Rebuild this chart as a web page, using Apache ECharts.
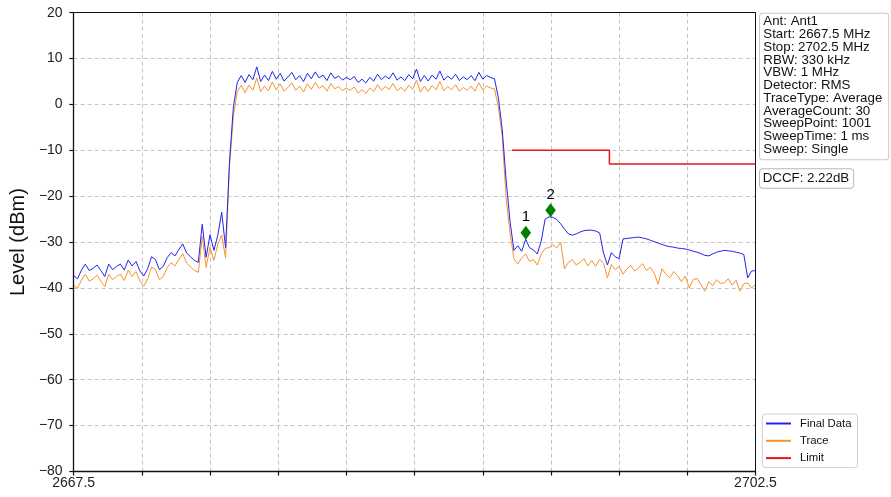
<!DOCTYPE html>
<html>
<head>
<meta charset="utf-8">
<script src="https://cdn.jsdelivr.net/npm/echarts@6/dist/echarts.min.js"></script>
<style>
html,body{margin:0;padding:0;background:#fff;}
#chart{width:891px;height:497px;}
</style>
</head>
<body>
<div id="chart"></div>
<script>
// Sweep: 2667.5 .. 2702.5 MHz, one value every 0.2 MHz
const sweepStart = 2667.5;
const sweepStep = 0.2;

const finalData = [
  -37.3, -38.0, -36.1, -34.8, -36.2, -35.7, -35.0, -36.2, -37.5, -34.8,
  -36.0, -35.3, -34.8, -36.1, -33.9, -35.2, -34.2, -36.3, -37.4, -35.8,
  -33.2, -33.8, -36.0, -35.3, -33.4, -32.3, -33.0, -31.6, -30.4, -32.4,
  -33.2, -34.0, -34.4, -26.1, -33.3, -28.4, -31.8, -28.5, -23.5, -31.2,
  -12.5, -0.5, 4.8, 6.3, 4.8, 6.5, 5.4, 8.2, 5.0, 6.4,
  5.2, 7.2, 5.5, 6.8, 5.1, 6.0, 7.0, 5.4, 6.3, 5.0,
  6.8, 5.6, 7.1, 5.8, 6.4, 5.2, 6.9, 5.7, 6.2, 5.3,
  5.9, 5.4, 6.1, 4.8, 5.5, 4.7, 5.9, 5.1, 6.6, 5.4,
  6.2, 5.6, 6.9, 5.3, 6.0, 5.2, 6.5, 5.6, 7.7, 5.0,
  6.3, 5.1, 6.4, 5.5, 7.3, 5.3, 6.2, 5.5, 6.6, 5.2,
  6.0, 5.4, 6.3, 5.2, 7.0, 5.5, 6.3, 5.9, 5.6, 1.5,
  -5.5, -16.5, -25.5, -31.8, -30.8, -32.0, -29.4, -31.2, -31.7, -32.6,
  -29.8, -25.0, -24.5, -24.6, -25.1, -26.0, -27.2, -28.2, -28.5, -28.2,
  -27.8, -27.5, -27.4, -27.4, -27.6, -28.0, -32.4, -35.0, -32.3, -33.2,
  -33.6, -29.3, -29.2, -29.1, -29.0, -28.9, -29.1, -29.3, -29.6, -29.9,
  -30.2, -30.5, -30.8, -31.0, -31.1, -31.3, -31.4, -31.5, -31.7, -32.0,
  -32.2, -32.5, -32.9, -33.0, -32.6, -32.2, -32.0, -31.8, -31.9, -32.0,
  -32.2, -32.4, -32.7, -37.8, -36.3, -36.2
];

const traceData = [
  -39.5, -40.0, -38.3, -37.0, -38.5, -38.0, -37.2, -38.5, -39.7, -37.0,
  -38.2, -37.5, -37.0, -38.4, -36.1, -37.5, -36.4, -38.5, -39.6, -38.0,
  -35.4, -36.0, -38.2, -37.5, -35.6, -34.5, -35.2, -33.8, -32.5, -34.6,
  -35.4, -36.2, -36.6, -28.8, -35.5, -31.2, -34.0, -30.4, -28.5, -33.5,
  -13.5, -2.5, 2.8, 4.2, 2.6, 4.2, 3.1, 5.8, 2.8, 4.0,
  3.0, 4.9, 3.2, 4.5, 2.9, 3.7, 4.7, 3.1, 4.0, 2.7,
  4.5, 3.3, 4.8, 3.5, 4.1, 2.9, 4.6, 3.4, 3.9, 3.0,
  3.6, 3.1, 3.8, 2.5, 3.2, 2.4, 3.6, 2.8, 4.3, 3.1,
  3.9, 3.3, 4.6, 3.0, 3.7, 2.9, 4.2, 3.3, 5.3, 2.7,
  4.0, 2.8, 4.1, 3.2, 5.0, 3.0, 3.9, 3.2, 4.3, 2.9,
  3.7, 3.1, 4.0, 2.9, 4.7, 3.2, 4.0, 3.6, 3.4, -0.5,
  -7.0, -20.5, -28.0, -33.6, -34.8, -33.4, -32.6, -34.2, -33.8, -35.0,
  -32.6, -31.4, -31.2, -30.6, -31.3, -30.1, -35.8, -34.4, -33.8, -35.0,
  -34.4, -33.6, -35.2, -34.0, -35.3, -33.8, -34.6, -37.8, -34.9, -36.0,
  -35.3, -37.0, -35.8, -35.1, -36.3, -35.6, -34.7, -36.2, -35.5, -36.8,
  -39.2, -35.8, -37.0, -37.8, -36.4, -37.3, -38.6, -37.4, -40.0, -38.2,
  -37.9, -39.3, -40.7, -38.6, -39.5, -38.2, -39.0, -38.9, -38.0, -39.4,
  -38.3, -40.7, -39.1, -38.9, -40.0, -39.3
];

// Limit line (MHz, dBm)
const limitFreqs = [2690.0, 2695.0, 2695.0, 2702.5];
const limitLevels = [-10, -10, -13, -13];

// Markers
const markerNames = ['1', '2'];
const markerFreqs = [2690.71, 2691.98];
const markerLevels = [-27.97, -23.08];

// Axis
const xMin = 2667.5, xMax = 2702.5, xDivisions = 10;
const xEdgeLabels = ['2667.5', '2702.5'];
const yMin = -80, yMax = 20, yStep = 10;

// Side texts
const infoLines = [
  'Ant: Ant1', 'Start: 2667.5 MHz', 'Stop: 2702.5 MHz', 'RBW: 330 kHz', 'VBW: 1 MHz',
  'Detector: RMS', 'TraceType: Average', 'AverageCount: 30', 'SweepPoint: 1001',
  'SweepTime: 1 ms', 'Sweep: Single'
];
const dccfText = 'DCCF: 2.22dB';
const seriesNames = ['Final Data', 'Trace', 'Limit'];

const FONT = "'Liberation Sans', Arial, sans-serif";
const span = xMax - xMin;
const freqs = finalData.map((_, i) => +(sweepStart + i * sweepStep).toFixed(3));

const chart = echarts.init(document.getElementById('chart'), null, {renderer: 'canvas'});
const axisLine = {show: true, onZero: false, lineStyle: {color: '#111', width: 1.3}};
const frameLine = {show: true, onZero: false, lineStyle: {color: '#111', width: 1}};
const gridLine = {show: true, lineStyle: {color: '#b5b5b5', width: 0.8, type: [4, 3]}};

chart.setOption({
  animation: false,
  backgroundColor: '#fff',
  grid: {left: 72.7, right: 135.5, top: 12.7, bottom: 25.5, show: false},
  xAxis: [
    {type: 'value', min: xMin, max: xMax, show: false},
    {
      type: 'value', min: 0, max: span, interval: span / xDivisions, position: 'bottom',
      axisLine: axisLine,
      axisTick: {show: true, length: 4, inside: false, lineStyle: {color: '#111', width: 1.2}},
      axisLabel: {
        show: true, fontSize: 14, color: '#222', fontFamily: FONT, margin: 5,
        formatter: v => Math.abs(v) < 1e-6 ? xEdgeLabels[0] : (Math.abs(v - span) < 1e-6 ? xEdgeLabels[1] : '')
      },
      splitLine: gridLine, z: 3
    },
    {
      type: 'value', min: 0, max: span, position: 'top',
      axisLine: frameLine, axisTick: {show: false}, axisLabel: {show: false}, splitLine: {show: false}, z: 3
    }
  ],
  yAxis: [
    {
      type: 'value', min: yMin, max: yMax, interval: yStep,
      name: 'Level (dBm)', nameLocation: 'middle', nameGap: 41,
      nameTextStyle: {fontSize: 20, color: '#111', fontFamily: FONT},
      axisLine: axisLine,
      axisTick: {show: true, length: 4.3, inside: false, lineStyle: {color: '#111', width: 1.2}},
      axisLabel: {fontSize: 14, color: '#222', fontFamily: FONT, margin: 11,
        formatter: v => v < 0 ? '\u2212' + Math.abs(v) : String(v)},
      splitLine: gridLine, z: 3
    },
    {
      type: 'value', min: yMin, max: yMax, position: 'right',
      axisLine: frameLine, axisTick: {show: false}, axisLabel: {show: false}, splitLine: {show: false}, z: 3
    }
  ],
  legend: {
    data: seriesNames,
    orient: 'vertical', left: 762.3, top: 414,
    padding: [4, 6, 4, 3.7], itemGap: 6.3,
    icon: 'rect', itemWidth: 25, itemHeight: 2,
    backgroundColor: '#fff', borderColor: '#cfcfcf', borderWidth: 1, borderRadius: 3,
    textStyle: {fontSize: 11.3, color: '#111', fontFamily: FONT, padding: [0, 0, 0, 4]}
  },
  series: [
    {
      name: seriesNames[0], type: 'line', xAxisIndex: 0, showSymbol: false, symbol: 'none',
      data: finalData.map((v, i) => [freqs[i], v]),
      lineStyle: {color: '#2323ee', width: 1}, itemStyle: {color: '#2323ee'}, z: 3
    },
    {
      name: seriesNames[1], type: 'line', xAxisIndex: 0, showSymbol: false, symbol: 'none',
      data: traceData.map((v, i) => [freqs[i], v]),
      lineStyle: {color: '#f5922e', width: 1}, itemStyle: {color: '#f5922e'}, z: 2
    },
    {
      name: seriesNames[2], type: 'line', xAxisIndex: 0, showSymbol: false, symbol: 'none',
      data: limitLevels.map((v, i) => [limitFreqs[i], v]),
      lineStyle: {color: '#e8141c', width: 1.5}, itemStyle: {color: '#e8141c'}, z: 4
    },
    {
      name: 'Markers', type: 'scatter', xAxisIndex: 0,
      symbol: 'diamond', symbolSize: [10.5, 14],
      data: markerLevels.map((v, i) => ({value: [markerFreqs[i], v], name: markerNames[i]})),
      itemStyle: {color: '#008000', opacity: 1},
      label: {show: true, position: 'top', distance: 1, formatter: p => p.name,
        fontSize: 15, color: '#000', fontFamily: FONT},
      z: 5
    }
  ],
  graphic: [
    {
      type: 'text', left: 759, top: 12.7, z: 10,
      style: {
        text: infoLines.join('\n'), font: '13.3px ' + FONT, lineHeight: 12.77, fill: '#111',
        backgroundColor: '#fff', borderColor: '#c8c8c8', borderWidth: 1, borderRadius: 3,
        padding: [1.5, 6, 3.5, 3.3]
      }
    },
    {
      type: 'text', left: 759, top: 168.3, z: 10,
      style: {
        text: dccfText, font: '13.3px ' + FONT, lineHeight: 14, fill: '#111',
        backgroundColor: '#fff', borderColor: '#b8b8b8', borderWidth: 1, borderRadius: 3,
        padding: [2.2, 4, 2.2, 2.7]
      }
    }
  ]
});
</script>
</body>
</html>
